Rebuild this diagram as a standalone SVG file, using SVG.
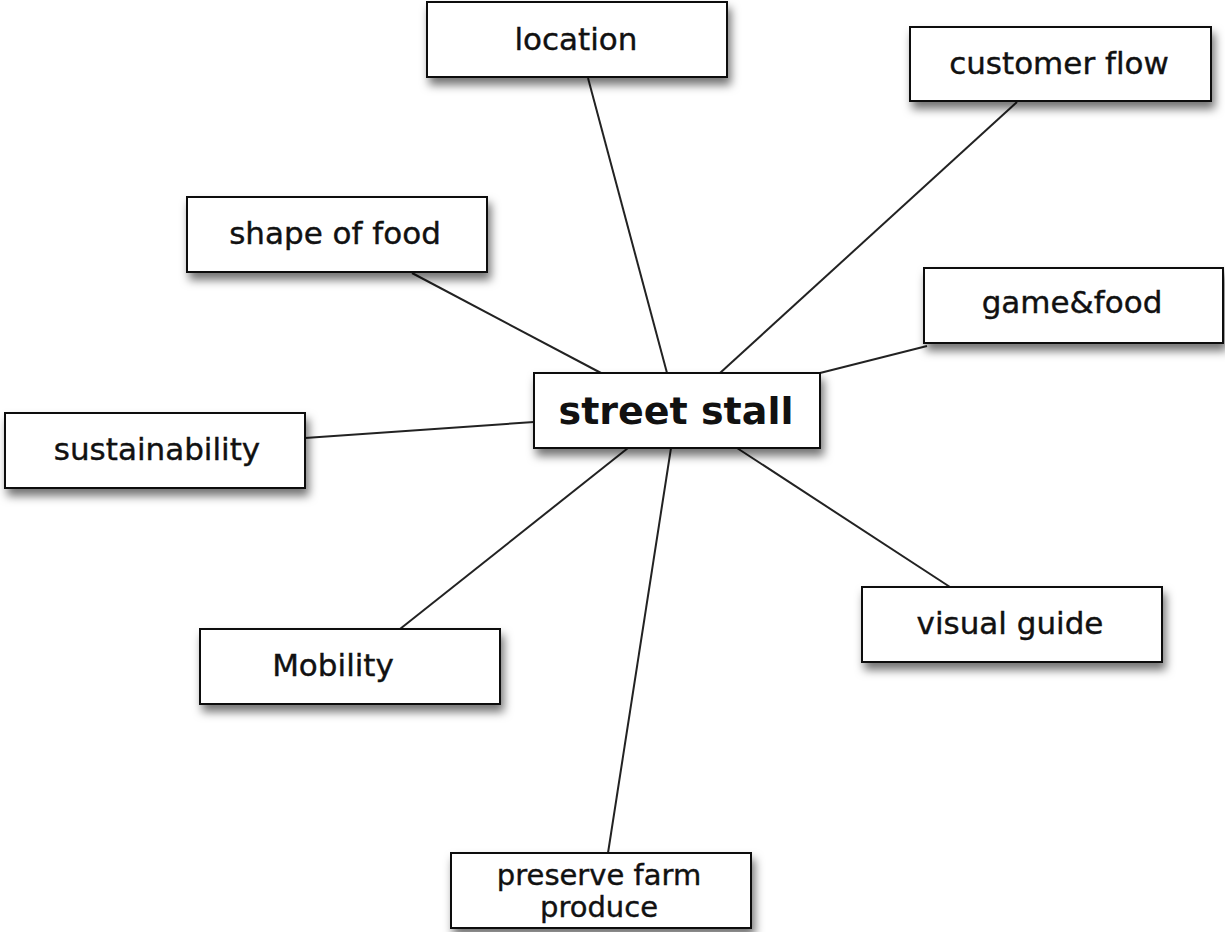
<svg xmlns="http://www.w3.org/2000/svg" width="1225" height="932" viewBox="0 0 1225 932">
<defs>
<filter id="sh" x="-10%" y="-20%" width="125%" height="170%">
<feDropShadow dx="3" dy="7" stdDeviation="5" flood-color="#000" flood-opacity="0.55"/>
</filter>
<style>
.box{fill:#fff;stroke:#111;stroke-width:2;filter:url(#sh)}
.t{font-family:"DejaVu Sans",sans-serif;font-size:31px;fill:#111;stroke:#111;stroke-width:0.4;text-anchor:middle;font-variant-ligatures:none}
.s{font-size:29px}
.big{font-family:"DejaVu Sans",sans-serif;font-size:38px;font-weight:bold;fill:#111;text-anchor:middle}
.c{stroke:#222;stroke-width:2;fill:none}
</style>
</defs>
<rect width="1225" height="932" fill="#fff"/>
<g id="connectors">
<line class="c" x1="588" y1="78" x2="667" y2="373"/>
<line class="c" x1="1017" y1="102" x2="720" y2="373"/>
<line class="c" x1="412" y1="273" x2="601" y2="373"/>
<line class="c" x1="927" y1="346" x2="820" y2="373"/>
<line class="c" x1="305" y1="438" x2="534" y2="422"/>
<line class="c" x1="950" y1="587" x2="737" y2="448"/>
<line class="c" x1="400" y1="629" x2="628" y2="448"/>
<line class="c" x1="608" y1="853" x2="671" y2="448"/>
</g>
<g id="location"><rect class="box" x="427" y="2" width="300" height="75"/><text class="t" x="576" y="50">location</text></g>
<g id="customer-flow"><rect class="box" x="910" y="27" width="301" height="74"/><text class="t" x="1059" y="74">customer flow</text></g>
<g id="shape-of-food"><rect class="box" x="187" y="197" width="300" height="75"/><text class="t" x="335" y="244">shape of food</text></g>
<g id="game-food"><rect class="box" x="924" y="268" width="299" height="75"/><text class="t" x="1072" y="313">game&amp;food</text></g>
<g id="street-stall"><rect class="box" x="534" y="373" width="286" height="75"/><text class="big" x="676" y="424">street stall</text></g>
<g id="sustainability"><rect class="box" x="5" y="413" width="300" height="75"/><text class="t" x="157" y="460">sustainability</text></g>
<g id="visual-guide"><rect class="box" x="862" y="587" width="300" height="75"/><text class="t" x="1010" y="634">visual guide</text></g>
<g id="mobility"><rect class="box" x="200" y="629" width="300" height="75"/><text class="t" x="333" y="676">Mobility</text></g>
<g id="preserve-farm-produce"><rect class="box" x="451" y="853" width="300" height="75"/><text class="t s" x="599" y="885">preserve farm</text><text class="t s" x="599" y="917">produce</text></g>
</svg>
